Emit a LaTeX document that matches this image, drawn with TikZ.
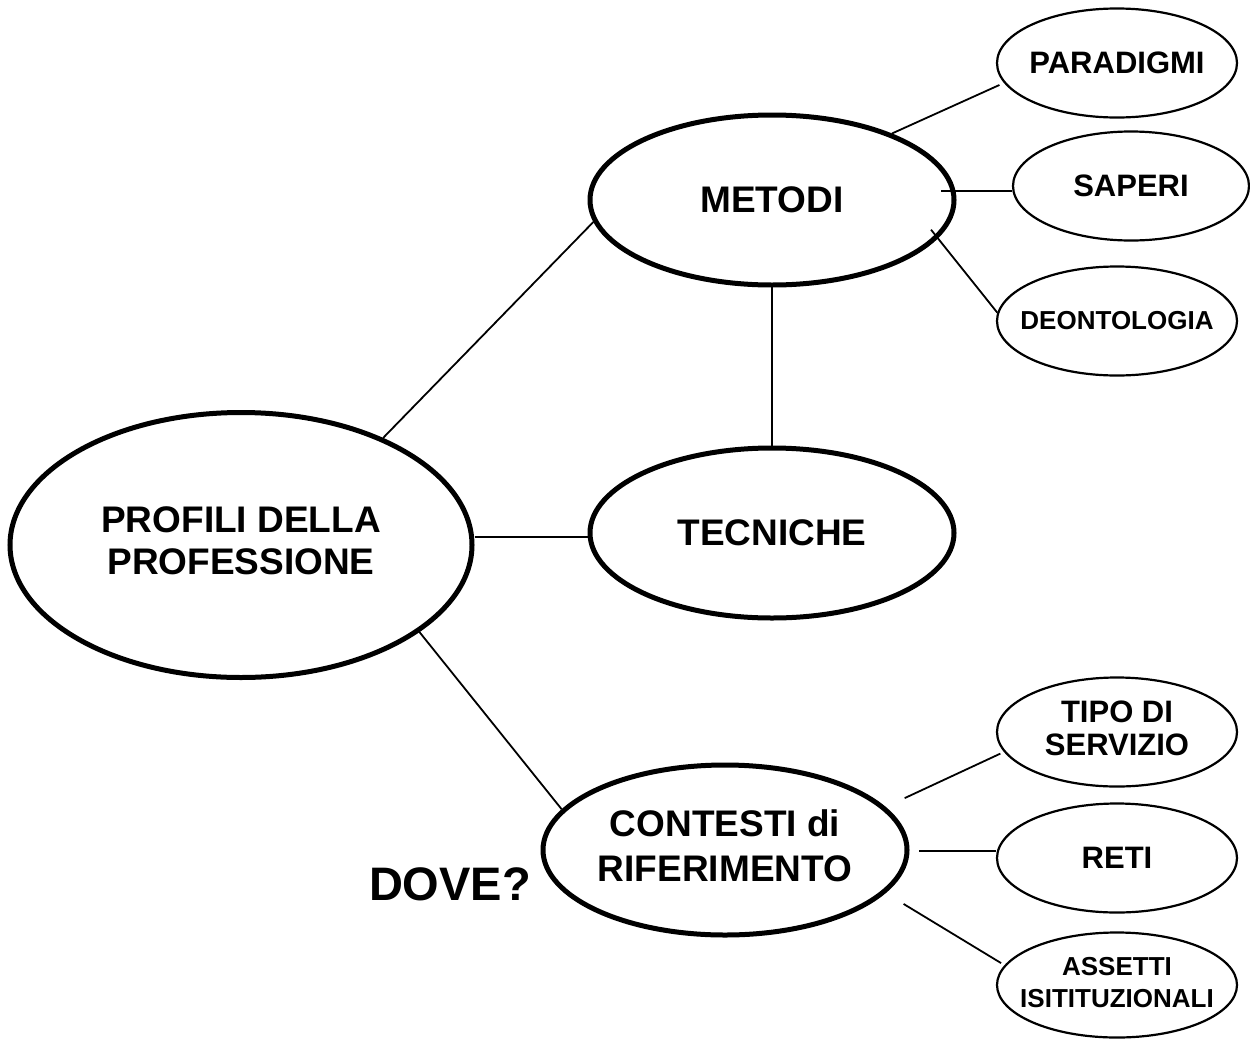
\documentclass[tikz,border=0pt]{standalone}
\usepackage{fontspec}
\setmainfont{Liberation Sans}
\usetikzlibrary{shapes.geometric}

% text of zero width, so that only the given sizes fix each ellipse
\newcommand{\oneline}[1]{\makebox[0pt]{#1}}
\newcommand{\twolines}[2]{\makebox[0pt]{\begin{tabular}{@{}c@{}}#1\\#2\end{tabular}}}

\begin{document}
\begin{tikzpicture}[x=1pt,y=-1pt,
  bigoval/.style={ellipse, draw, line width=5pt, inner sep=0pt,
    minimum width=364pt, minimum height=170pt,
    font=\bfseries\fontsize{37}{45}\selectfont},
  smalloval/.style={ellipse, draw, line width=2.2pt, inner sep=0pt,
    minimum width=240pt, minimum height=109pt,
    font=\bfseries\fontsize{31}{33}\selectfont},
  link/.style={line width=1.8pt}]

\useasboundingbox (0,0) rectangle (1250,1039);

% main concepts
\node[bigoval, minimum width=462pt, minimum height=265pt,
      font=\bfseries\fontsize{37}{42}\selectfont]
  (profili) at (241,545) {\twolines{PROFILI DELLA}{PROFESSIONE}};
\node[bigoval] (metodi)   at (772,200) {\oneline{METODI}};
\node[bigoval] (tecniche) at (772,533) {\oneline{TECNICHE}};
\node[bigoval] (contesti) at (725,850) {\twolines{CONTESTI di}{RIFERIMENTO}};

% branches of METODI
\node[smalloval] (paradigmi) at (1117,63) {\oneline{PARADIGMI}};
\node[smalloval, minimum width=236pt] (saperi) at (1131,186) {\oneline{SAPERI}};
\node[smalloval, font=\bfseries\fontsize{26}{32}\selectfont]
  (deontologia) at (1117,321) {\oneline{DEONTOLOGIA}};

% branches of CONTESTI
\node[smalloval] (tipo) at (1117,732) {\twolines{TIPO DI}{SERVIZIO}};
\node[smalloval] (reti) at (1117,858) {\oneline{RETI}};
\node[smalloval, minimum height=105pt, font=\bfseries\fontsize{26}{32}\selectfont]
  (assetti) at (1117,985) {\twolines{ASSETTI}{ISITITUZIONALI}};

% question beside the contexts
\node[font=\bfseries\fontsize{47}{50}\selectfont, inner sep=0pt]
  (dove) at (450,884) {DOVE?};

% connectors
\draw[link] (profili.37) -- (metodi.187);
\draw[link] ([yshift=-4pt]tecniche.west) -- ([yshift=-4pt]tecniche.west -| profili.east);
\draw[link, shorten <=-3pt] (metodi.south) -- (tecniche.north);
\draw[link, shorten <=-4pt] (profili.-26) -- (contesti.166);

\draw[link, shorten >=5pt] (metodi.29) -- (paradigmi.190);
\draw[link, shorten >=-16pt] ([yshift=-5pt]saperi.west) -- ([yshift=-5pt]saperi.west -| metodi.east);
\draw[link, shorten <=-11pt] (metodi.-13) -- (deontologia.176);

\draw[link, shorten <=21pt, shorten >=4pt] (contesti.15) -- (tipo.190);
\draw[link, shorten >=9pt] ([yshift=7pt]reti.west) -- ([yshift=7pt]reti.west -| contesti.east);
\draw[link, shorten <=21pt, shorten >=4pt] (contesti.-15) -- (assetti.170);
\end{tikzpicture}
\end{document}
